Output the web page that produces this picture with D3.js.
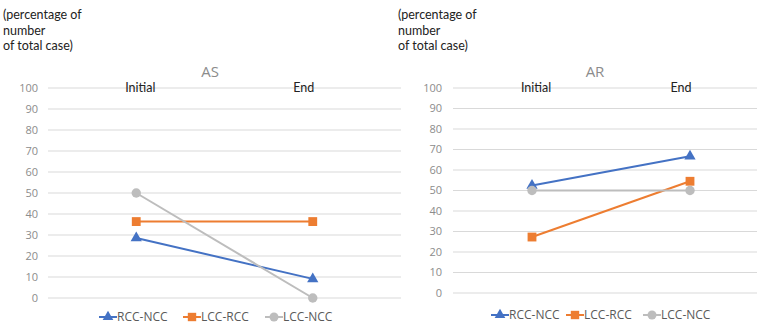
<!DOCTYPE html>
<html>
<head>
<meta charset="utf-8">
<script src="https://cdn.jsdelivr.net/npm/d3@7"></script>
<style>
  body { margin: 0; background: #fff; }
  svg { display: block; font-family: "Open Sans", "Noto Sans", sans-serif; }
</style>
</head>
<body>
<div id="chart"></div>
<script>
// data
const stages = ["Initial", "End"];
const seriesNames = ["RCC-NCC", "LCC-RCC", "LCC-NCC"];
const asValues = [[28.6, 9.1], [36.4, 36.4], [50, 0]];
const arValues = [[52.4, 66.7], [27.3, 54.5], [50, 50]];
const yTicks = [0, 10, 20, 30, 40, 50, 60, 70, 80, 90, 100];
const colors = ["#4472C4", "#ED7D31", "#BDBDBD"];
const symbols = [d3.symbolTriangle, d3.symbolSquare, d3.symbolCircle];
const symbolSizes = [55, 78, 70];

const W = 757, H = 327;
const svg = d3.select("#chart").append("svg")
  .attr("width", W)
  .attr("height", H);

// 两个面板的布局
const panels = [
  { title: "AS", values: asValues, x0: 48, x1: 401, yTop: 88, yBot: 298,
    tickX: 38, titleX: 210, noteX: 3, legendY: 317, legendX: [99, 183, 265] },
  { title: "AR", values: arValues, x0: 453, x1: 769, yTop: 88, yBot: 293,
    tickX: 442, titleX: 595, noteX: 398, legendY: 315, legendX: [491, 566, 643] }
];

panels.forEach(p => {
  const g = svg.append("g");

  const x = d3.scaleBand().domain(stages).range([p.x0, p.x1]).padding(0);
  const y = d3.scaleLinear().domain([0, 100]).range([p.yBot, p.yTop]);

  // 网格线
  g.append("g").selectAll("line")
    .data(yTicks)
    .join("line")
    .attr("x1", p.x0).attr("x2", Math.min(p.x1, W))
    .attr("y1", d => y(d)).attr("y2", d => y(d))
    .attr("stroke", "#d9d9d9")
    .attr("stroke-width", 1);

  // y 轴刻度
  g.append("g").selectAll("text")
    .data(yTicks)
    .join("text")
    .attr("x", p.tickX)
    .attr("y", d => y(d))
    .attr("dy", "0.35em")
    .attr("text-anchor", "end")
    .attr("font-size", 11)
    .attr("fill", "#8c8c8c")
    .text(d => d);

  // 类别标签(顶部)
  g.append("g").selectAll("text")
    .data(stages)
    .join("text")
    .attr("x", d => x(d) + x.bandwidth() / 2 + (d === "Initial" ? 4 : -9))
    .attr("y", y(100))
    .attr("dy", "0.35em")
    .attr("text-anchor", "middle")
    .attr("font-family", "Lato, 'Open Sans', sans-serif")
    .attr("font-size", 12.5)
    .attr("fill", "#222")
    .text(d => d);

  // 标题
  g.append("text")
    .attr("x", p.titleX)
    .attr("y", 77)
    .attr("text-anchor", "middle")
    .attr("font-size", 15)
    .attr("fill", "#8c8c8c")
    .text(p.title);

  // y 轴说明
  const note = g.append("text")
    .attr("font-family", "Lato, 'Open Sans', sans-serif")
    .attr("font-size", 12.5)
    .attr("fill", "#222");
  ["(percentage of", "number", "of total case)"].forEach((t, i) => {
    note.append("tspan").attr("x", p.noteX).attr("y", 19 + i * 15.5).text(t);
  });

  // 折线
  const line = d3.line()
    .x((d, i) => x(stages[i]) + x.bandwidth() / 2)
    .y(d => y(d));

  p.values.forEach((vals, si) => {
    g.append("path")
      .datum(vals)
      .attr("fill", "none")
      .attr("stroke", colors[si])
      .attr("stroke-width", 2)
      .attr("d", line);

    g.append("g").selectAll("path")
      .data(vals)
      .join("path")
      .attr("transform", (d, i) => `translate(${x(stages[i]) + x.bandwidth() / 2},${y(d)})`)
      .attr("d", d3.symbol().type(symbols[si]).size(symbolSizes[si]))
      .attr("fill", colors[si]);
  });

  // 图例
  seriesNames.forEach((name, si) => {
    const lx = p.legendX[si];
    const lg = g.append("g").attr("transform", `translate(${lx},${p.legendY})`);
    lg.append("line")
      .attr("x1", 0).attr("x2", 18)
      .attr("stroke", colors[si])
      .attr("stroke-width", 2);
    lg.append("path")
      .attr("transform", "translate(9,0)")
      .attr("d", d3.symbol().type(symbols[si]).size(symbolSizes[si] * 0.9))
      .attr("fill", colors[si]);
    lg.append("text")
      .attr("x", 18)
      .attr("dy", "0.35em")
      .attr("font-size", 12)
      .attr("fill", "#595959")
      .text(name);
  });
});
</script>
</body>
</html>
